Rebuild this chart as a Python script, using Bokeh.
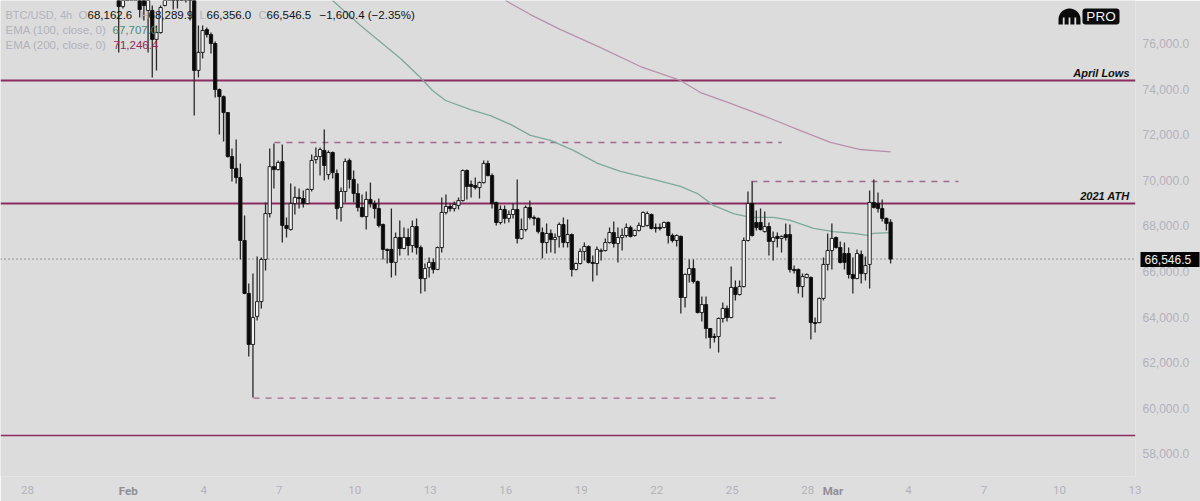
from bokeh.plotting import figure
from bokeh.models import (ColumnDataSource, Span, Label, BoxAnnotation, PolyAnnotation, LinearAxis,
                          FixedTicker, NumeralTickFormatter)
from bokeh.embed import file_html
from bokeh.resources import INLINE
import numpy as np

# data: 4h candles, BTC/USD
opens = [78540, 77620, 78980, 78540, 78410, 78330, 78110, 77450, 77450, 76180, 76480, 77670, 78110, 78320, 78410, 78540, 78060, 78540, 77970, 74820, 75610, 76610, 76390, 76000,
         73980, 73670, 72970, 71040, 70520, 70120, 67360, 65040, 62800, 64030, 64680, 66530, 68540, 70600, 70470, 70820, 68020, 67840, 68980, 69250, 69200, 68980, 69600, 70910,
         71040, 71310, 70250, 71220, 70300, 68810, 69510, 70870, 70040, 69420, 68810, 68410, 69160, 68980, 68760, 68060, 66970, 66970, 66400, 67490, 67010, 67490, 67140, 67970,
         67050, 65690, 66180, 66400, 66090, 67050, 68590, 68850, 68760, 68900, 69110, 70430, 69820, 69770, 69680, 69900, 70740, 70210, 69030, 68150, 68720, 68330, 68500, 68720,
         67450, 67840, 68810, 68370, 68330, 67710, 67270, 67670, 67400, 67540, 68060, 67270, 67620, 66090, 66350, 66880, 67100, 66400, 66350, 66880, 66920, 67270, 67710, 67230,
         67490, 67580, 67930, 67580, 67800, 67970, 68020, 68500, 67930, 67930, 67930, 68150, 67580, 67360, 67540, 64860, 65870, 66130, 65560, 64200, 64550, 63500, 63150, 63150,
         63940, 64380, 63980, 65300, 64990, 65340, 67360, 68980, 68150, 68150, 67750, 67970, 67320, 67540, 67450, 67620, 67620, 66090, 66090, 65340, 65740, 65740, 63760, 63760,
         64820, 66310, 66920, 67490, 67050, 66790, 66790, 65870, 65690, 66750, 65910, 66310, 69030, 68980, 68760, 68330, 68162.6]
closes = [77620, 78110, 78410, 79200, 78980, 77490, 77670, 78110, 76180, 76480, 77580, 77970, 78540, 77970, 78110, 78240, 78540, 77970, 74820, 75610, 76570, 76390, 76000, 73980,
          73670, 72970, 71040, 70520, 70120, 67360, 65040, 62800, 63980, 64680, 66530, 68540, 70600, 70470, 70780, 68020, 67890, 68980, 69250, 69200, 68980, 69600, 70870, 71040,
          71350, 70650, 71220, 70340, 68760, 69510, 70820, 70040, 69420, 68810, 68410, 69160, 68980, 68760, 68020, 66970, 66920, 66400, 67490, 67010, 67490, 67140, 67970, 67050,
          65690, 66130, 66400, 66090, 67050, 68590, 68850, 68760, 68940, 69110, 70430, 69730, 69730, 69680, 69900, 70740, 70210, 68980, 68150, 68720, 68330, 68500, 68720, 67450,
          67840, 68810, 68370, 68330, 67750, 67270, 67670, 67400, 67490, 68060, 67270, 67620, 66090, 66350, 66880, 67100, 66400, 66350, 66970, 66920, 67270, 67710, 67230, 67490,
          67580, 67930, 67540, 67800, 68020, 68590, 68540, 67890, 67890, 67890, 68150, 67580, 67360, 67580, 64860, 65870, 66130, 65560, 64200, 64550, 63500, 63110, 63110, 63940,
          64380, 63980, 65300, 64990, 65340, 67360, 68980, 67580, 67930, 67840, 67970, 67320, 67490, 67450, 67540, 67490, 66090, 66040, 65340, 65780, 65870, 63760, 63720, 64820,
          66310, 66920, 67450, 67050, 66400, 66400, 65870, 65690, 66790, 65910, 66260, 69030, 68810, 68760, 68330, 68110, 66546.5]
highs = [78760, 78320, 79420, 79640, 79290, 78540, 78320, 78240, 77670, 76790, 77670, 78240, 78760, 78540, 78680, 78760, 78850, 78760, 78110, 76790, 76790, 76700, 76480, 76090,
         74030, 73720, 73000, 71400, 71790, 70740, 68460, 65470, 65910, 66660, 66610, 69030, 71400, 71610, 70870, 71570, 68370, 69860, 69730, 69640, 69550, 69640, 71130, 71440,
         71440, 72230, 71310, 71260, 70470, 69680, 70960, 70960, 70430, 69860, 69380, 69510, 69900, 69110, 69200, 68110, 67010, 68760, 67710, 68240, 67930, 67890, 68240, 68330,
         67140, 66350, 66610, 66570, 67100, 69250, 69380, 68980, 69070, 69250, 70470, 70470, 69990, 70120, 69950, 70870, 70870, 70300, 69060, 68900, 68900, 68680, 68980, 70040,
         68330, 68900, 69110, 68460, 68370, 67930, 68110, 67840, 67670, 68150, 68370, 68280, 67670, 66400, 67010, 67270, 67140, 66700, 67100, 67010, 67450, 67930, 68190, 67930,
         67890, 68110, 68020, 67840, 68150, 68630, 68630, 68540, 68110, 68110, 68190, 68190, 67670, 67620, 67580, 65910, 66530, 66530, 65610, 64900, 64900, 63520, 63280, 63980,
         64640, 64510, 66220, 65610, 65610, 67490, 69510, 69950, 68680, 68760, 68630, 68150, 67750, 67710, 67580, 68110, 68060, 66260, 66130, 65910, 65910, 65780, 63980, 64860,
         66610, 67670, 68110, 67540, 67320, 67270, 67050, 66610, 66970, 66920, 66660, 69550, 70040, 69470, 69160, 68370, 68289.9]
lows = [75610, 77530, 78100, 78240, 78020, 77140, 77010, 75610, 74510, 74820, 76440, 77620, 77890, 77490, 77530, 77970, 77800, 77010, 72840, 74510, 75340, 76260, 75560, 73630,
        72010, 71700, 71000, 69950, 69860, 66530, 65000, 62270, 60470, 63850, 64380, 66040, 68370, 69640, 70430, 67270, 67490, 67800, 68500, 68760, 68810, 68950, 69510, 70740,
        70210, 69990, 70040, 70080, 68280, 68190, 69030, 69640, 69030, 68630, 68370, 67840, 68810, 68330, 67930, 66530, 66350, 65740, 65830, 66700, 66980, 66700, 66830, 66750,
        65040, 65120, 65740, 65910, 66050, 66830, 68500, 68630, 68630, 68720, 69070, 69160, 69250, 69600, 69200, 69860, 70170, 68760, 68020, 68060, 68110, 68150, 68330, 67230,
        67400, 67750, 68280, 68020, 67670, 66570, 66790, 66830, 66790, 67050, 67050, 67050, 65780, 66040, 66310, 66480, 66350, 65560, 65820, 66480, 66880, 67230, 67050, 66400,
        66920, 67490, 67490, 67540, 67750, 67970, 67970, 67840, 67710, 67800, 67900, 67230, 67270, 67100, 64160, 64420, 65520, 65470, 64160, 63810, 63060, 62620, 62890, 62450,
        63760, 63810, 63950, 64730, 64950, 65300, 67320, 67540, 67800, 67800, 67710, 66700, 66480, 67050, 66830, 67360, 65960, 65910, 65040, 64860, 65700, 63020, 63320, 63730,
        64730, 66040, 66090, 67010, 66350, 66090, 65690, 65040, 65660, 65470, 65610, 65250, 68760, 68590, 68190, 67800, 66356.0]

# moving averages
ema100_days = [12.12, 13.23, 14.82, 15.61, 16.09, 16.61, 17.60, 18.39, 19.19, 19.98, 20.78, 21.69, 22.65, 23.56, 24.87, 25.94, 26.62, 27.25, 28.05, 28.72, 29.64, 30.31, 31.23, 32.02, 32.82, 33.37, 33.61, 34.21]
ema100 = [77886, 76790, 75340, 74510, 73940, 73500, 73100, 72840, 72450, 71970, 71750, 71310, 70740, 70390, 70040, 69730, 69420, 68900, 68540, 68370, 68370, 68240, 67890, 67750, 67670, 67580, 67670, 67707]
ema200_days = [18.99, 19.98, 21.18, 22.77, 24.35, 25.94, 26.74, 27.93, 29.52, 30.71, 31.90, 33.09, 34.29]
ema200 = [77886, 77270, 76610, 75820, 74990, 74380, 73850, 73370, 72710, 72180, 71660, 71350, 71246]

# levels
levels = [74380, 68980, 58810]
last_price = 66546.5
dashed_starts = [9.81, 8.98, 28.76]
dashed_ends = [29.96, 29.96, 36.99]
dashed_prices = [71658, 60450, 69947]

# axis ticks, days counted from 28 Jan
tick_days = [0, 7, 10, 13, 16, 19, 22, 25, 28, 31, 35, 38, 41, 44]
tick_labels = ["28", "4", "7", "10", "13", "16", "19", "22", "25", "28", "4", "7", "10", "13"]
month_days = [4, 32]
month_labels = ["Feb", "Mar"]
price_ticks = [58000, 60000, 62000, 64000, 66000, 68000, 70000, 72000, 74000, 76000]

BG = "#dcdcdc"
PANEL = "#dedede"
WINE = "#8a2c5e"
GREY = "#b2b2ba"
FONT = "Liberation Sans"

days = 34.29 - (len(opens) - 1 - np.arange(len(opens))) / 6
up = [c >= o for o, c in zip(opens, closes)]
src = ColumnDataSource(dict(
    day=days, high=highs, low=lows,
    top=[max(o, c) for o, c in zip(opens, closes)],
    bottom=[min(o, c) for o, c in zip(opens, closes)],
    fill=["#f4f4f4" if u else "#0a0a0a" for u in up],
))

p = figure(frame_width=1135, frame_height=476,
           x_range=(-1.073, 44.02), y_range=(57009, 77886),
           y_axis_location="right", output_backend="svg", toolbar_location=None,
           min_border=0, min_border_right=65, min_border_bottom=25,
           background_fill_color=BG, border_fill_color=PANEL)
p.outline_line_color = None
p.grid.visible = False

# axes
p.xaxis.ticker = FixedTicker(ticks=tick_days)
p.xaxis.major_label_overrides = dict(zip(tick_days, tick_labels))
p.yaxis.ticker = FixedTicker(ticks=price_ticks)
p.yaxis.formatter = NumeralTickFormatter(format="0,0.0")
for ax in (p.xaxis, p.yaxis):
    ax.axis_line_color = None
    ax.major_tick_line_color = None
    ax.minor_tick_line_color = None
    ax.major_label_text_color = GREY
    ax.major_label_text_font_size = "11.5px"
p.xaxis.major_label_text_font = "Roboto"
p.xaxis.major_label_standoff = 3
p.yaxis.major_label_text_font = FONT
p.yaxis.major_label_text_font_size = "12px"
p.yaxis.major_label_standoff = 1

# month names are bold, so they get an axis of their own pulled back onto the same row
month_axis = LinearAxis(ticker=FixedTicker(ticks=month_days),
                        major_label_overrides=dict(zip(month_days, month_labels)),
                        axis_line_color=None, major_tick_line_color=None, minor_tick_line_color=None,
                        major_label_text_color="#8e8e96", major_label_text_font="Roboto",
                        major_label_text_font_size="11.5px", major_label_text_font_style="bold",
                        major_label_standoff=-19)
p.add_layout(month_axis, "below")

# last price tag, the black box is a long thick tick of a second price axis
tag_axis = LinearAxis(ticker=FixedTicker(ticks=[last_price]), formatter=NumeralTickFormatter(format="0,0.0"),
                      axis_line_color=None, minor_tick_line_color=None,
                      major_tick_line_color="#050505", major_tick_line_width=15, major_tick_in=52, major_tick_out=7,
                      major_label_text_color="#f0f0f0", major_label_text_font=FONT,
                      major_label_text_font_size="12px", major_label_standoff=-55)
p.add_layout(tag_axis, "right")

# horizontal levels
for price, w in zip(levels, [2, 2, 1.5]):
    p.add_layout(Span(location=price, dimension="width", line_color=WINE, line_width=w, level="underlay"))
p.add_layout(Span(location=last_price, dimension="width", line_color="#4a4a4a", line_width=1,
                  line_dash="1 3", level="underlay"))

# dashed ranges
for x0, x1, price in zip(dashed_starts, dashed_ends, dashed_prices):
    p.line([x0, x1], [price, price], line_color="#a06a8a", line_width=1.3, line_dash="6 6")

# ema lines
p.line(ema100_days, ema100, line_color="#7fa89c", line_width=1.3)
p.line(ema200_days, ema200, line_color="#b892aa", line_width=1.3)

# candles
p.segment("day", "high", "day", "low", source=src, line_color="#2a2a2a", line_width=1.3)
p.vbar("day", 0.13, "top", "bottom", source=src, fill_color="fill", line_color="#111111", line_width=0.9)


# texts are placed by reference pixel, the frame ends at y=476
def put(text, x, y, color="#111111", size="11.5px", style="normal", align="left"):
    p.add_layout(Label(x=x, y=476 - y, x_units="screen", y_units="screen", text=text,
                       text_color=color, text_font=FONT, text_font_size=size, text_font_style=style,
                       text_align=align, text_baseline="middle"))


put("BTC/USD, 4h", 5, 14, GREY, "11px")
put("O", 78, 14, GREY)
put("68,162.6", 87, 14)
put("H", 140, 14, GREY)
put("68,289.9", 148, 14)
put("L", 199, 14, GREY)
put("66,356.0", 206, 14)
put("C", 258, 14, GREY)
put("66,546.5", 266, 14)
put("\u22121,600.4 (\u22122.35%)", 319, 14)
put("EMA (100, close, 0)", 5, 29, GREY)
put("67,707.0", 112, 29, "#4f8a78")
put("EMA (200, close, 0)", 5, 44, GREY)
put("71,246.4", 113, 44, "#8e2a5a")

put("April Lows", 1129, 72, "#111111", "11px", "bold italic", "right")
put("2021 ATH", 1129, 195, "#111111", "11px", "bold italic", "right")

# kraken logo and badge
theta = np.linspace(np.pi, 0, 24)
dome_x = np.r_[1058, 1069 + 11 * np.cos(theta), 1080]
dome_y = 476 - np.r_[24, 19 - 11 * np.sin(theta), 24]
p.add_layout(PolyAnnotation(xs=list(dome_x), ys=list(dome_y), xs_units="screen", ys_units="screen",
                            fill_color="#0a0a0a", fill_alpha=1, line_color=None))
for gap in [1063.2, 1069, 1074.8]:
    p.add_layout(BoxAnnotation(left=gap - 0.9, right=gap + 0.9, top=476 - 17, bottom=476 - 25,
                               left_units="screen", right_units="screen", top_units="screen", bottom_units="screen",
                               fill_color=BG, fill_alpha=1, line_color=None))
p.add_layout(BoxAnnotation(left=1082, right=1119, top=476 - 8, bottom=476 - 24,
                           left_units="screen", right_units="screen", top_units="screen", bottom_units="screen",
                           fill_color="#0a0a0a", fill_alpha=1, line_color=None, border_radius=3))
put("PRO", 1100.5, 16, "#f2f2f2", "13.5px", align="center")

open("out.html", "w").write(file_html(p, INLINE))
